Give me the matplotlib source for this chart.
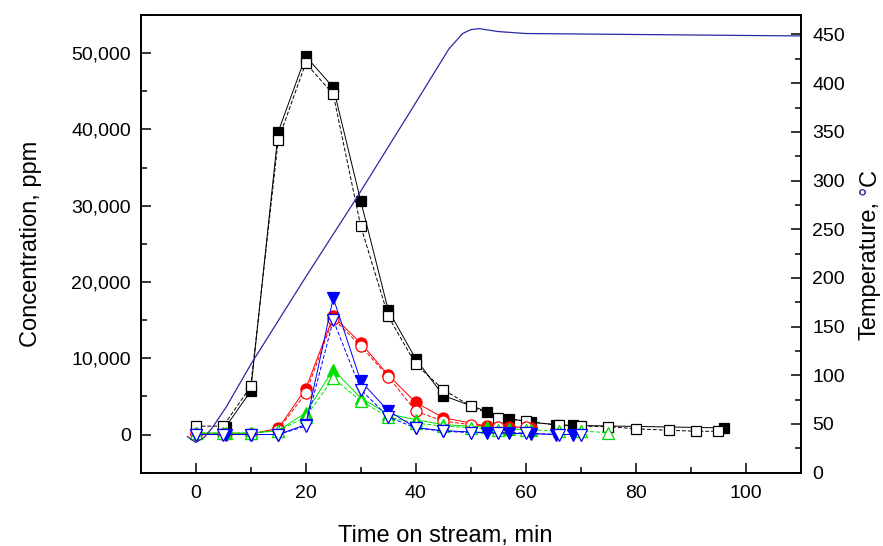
import matplotlib
matplotlib.use("Agg")
import matplotlib.pyplot as plt
from matplotlib.ticker import MultipleLocator, FuncFormatter

plt.rcParams["font.family"] = ["Liberation Sans", "DejaVu Sans"]

# ---- data ----
# black squares
t_sq_open = [0, 5, 10, 15, 20, 25, 30, 35, 40, 45, 50, 55, 60, 66, 70, 75, 80, 86, 91, 95]
c_sq_open = [1100, 1100, 6300, 38600, 48700, 44600, 27300, 15500, 9200, 5900, 3700, 2200,
             1750, 1200, 1100, 1050, 750, 560, 430, 430]
t_sq_fill = [5.5, 10, 15, 20, 25, 30, 35, 40, 45, 53, 57, 61, 65.5, 68.5, 96]
c_sq_fill = [1050, 5700, 39700, 49600, 45500, 30600, 16300, 9900, 5100, 3000, 2100, 1600,
             1300, 1200, 870]

# red circles
t_ci_open = [0, 5, 10, 15, 20, 25, 30, 35, 40, 45, 50, 55, 60]
c_ci_open = [100, 100, 100, 650, 5400, 15200, 11600, 7600, 3050, 1750, 1300, 950, 950]
t_ci_fill = [0, 5.5, 10, 15, 20, 25, 30, 35, 40, 45, 53, 57, 61]
c_ci_fill = [100, 100, 100, 800, 6000, 15500, 12000, 7800, 4200, 2200, 1100, 1000, 900]

# green up-triangles
t_up_open = [0, 5, 10, 15, 20, 25, 30, 35, 40, 45, 50, 55, 60, 66, 70, 75]
c_up_open = [200, 200, 200, 500, 2300, 7400, 4400, 2300, 1500, 1100, 900, 650, 650, 450, 450, 250]
t_up_fill = [0, 5.5, 10, 15, 20, 25, 30, 35, 40, 45, 53, 57, 61]
c_up_fill = [200, 200, 200, 500, 2850, 8500, 4800, 2700, 1950, 1300, 950, 750, 600]

# blue down-triangles
t_dn_open = [0, 5, 10, 15, 20, 25, 30, 35, 40, 45, 50, 55, 60, 66, 70]
c_dn_open = [0, 0, 0, 0, 1100, 15000, 5900, 2300, 870, 430, 250, 250, 200, 0, 0]
t_dn_fill = [0, 5.5, 10, 15, 20, 25, 30, 35, 40, 45, 53, 57, 61, 65.5, 68.5]
c_dn_fill = [0, 0, 0, 0, 1300, 17900, 7000, 3100, 900, 500, 250, 150, 100, 0, 0]

# temperature
t_temp = [-1.5, 0, 1.5, 3, 5.5, 10, 20, 29, 40, 46, 48.5, 50, 51.5, 55, 60, 70, 80, 90, 100, 110]
T_temp = [37, 31, 36, 46, 67, 111, 201, 280, 380, 435, 451, 455, 456, 453, 451, 450.5,
          450, 449.5, 449, 448.5]

fig = plt.figure(figsize=(8.83, 5.46), dpi=100)
ax = fig.add_axes([0.1593, 0.1343, 0.7478, 0.8382])
ax2 = ax.twinx()

lw = 0.7
ms = 7.5


def series(t, c, marker, color, filled, ls, ms=ms):
    ax.plot(t, c, ls=ls, lw=lw, color=color, marker=marker, ms=ms,
            mfc=color if filled else "white", mec=color, mew=0.9)


series(t_sq_fill, c_sq_fill, "s", "black", True, "-")
series(t_sq_open, c_sq_open, "s", "black", False, (0, (4, 2)))
series(t_ci_fill, c_ci_fill, "o", "red", True, "-", ms=8)
series(t_ci_open, c_ci_open, "o", "red", False, (0, (4, 2)), ms=8)
series(t_up_fill, c_up_fill, "^", "#00e000", True, "-", ms=9)
series(t_up_open, c_up_open, "^", "#00e000", False, (0, (4, 2)), ms=9)
series(t_dn_fill, c_dn_fill, "v", "blue", True, "-", ms=9)
series(t_dn_open, c_dn_open, "v", "blue", False, (0, (4, 2)), ms=9)

ax2.plot(t_temp, T_temp, color="#2a2aa0", lw=0.9)

ax.set_xlim(-10, 110)
ax.set_ylim(-5000, 55000)
ax2.set_ylim(0, 470)

ax.xaxis.set_major_locator(MultipleLocator(20))
ax.xaxis.set_minor_locator(MultipleLocator(10))
ax.yaxis.set_major_locator(MultipleLocator(10000))
ax.yaxis.set_minor_locator(MultipleLocator(5000))
ax.yaxis.set_major_formatter(FuncFormatter(lambda v, p: f"{int(v):,}"))
ax2.yaxis.set_major_locator(MultipleLocator(50))
ax2.yaxis.set_minor_locator(MultipleLocator(25))

for a in (ax, ax2):
    for s in a.spines.values():
        s.set_linewidth(1.3)
ax.tick_params(which="both", direction="in", labelsize=14, width=1.1, top=False, right=False)
ax.tick_params(which="major", length=7)
ax.tick_params(which="minor", length=4)
ax.tick_params(axis="x", pad=9)
ax.tick_params(axis="y", pad=7)
ax2.tick_params(which="both", direction="in", labelsize=14, width=1.1, pad=8)
ax2.tick_params(which="major", length=7)
ax2.tick_params(which="minor", length=4)

ax.set_xlabel("Time on stream, min", fontsize=17)
ax.xaxis.set_label_coords(0.461, -0.115)
ax.set_ylabel("Concentration, ppm", fontsize=17)
ax.yaxis.set_label_coords(-0.150, 0.5)

# right label with a blue degree sign
t1 = ax2.text(1.1045, 0.29, "Temperature,", transform=ax2.transAxes, rotation=90,
              ha="center", va="bottom", fontsize=17)
t2 = ax2.annotate("\u00b0", xy=(0.5, 1), xycoords=t1, xytext=(0, 4),
                  textcoords="offset points", rotation=90, ha="center", va="bottom",
                  fontsize=17, color="#2a2aa0")
ax2.annotate("C", xy=(0.5, 1), xycoords=t2, rotation=90, ha="center", va="bottom",
             fontsize=17)

fig.savefig("out.png", dpi=100)
